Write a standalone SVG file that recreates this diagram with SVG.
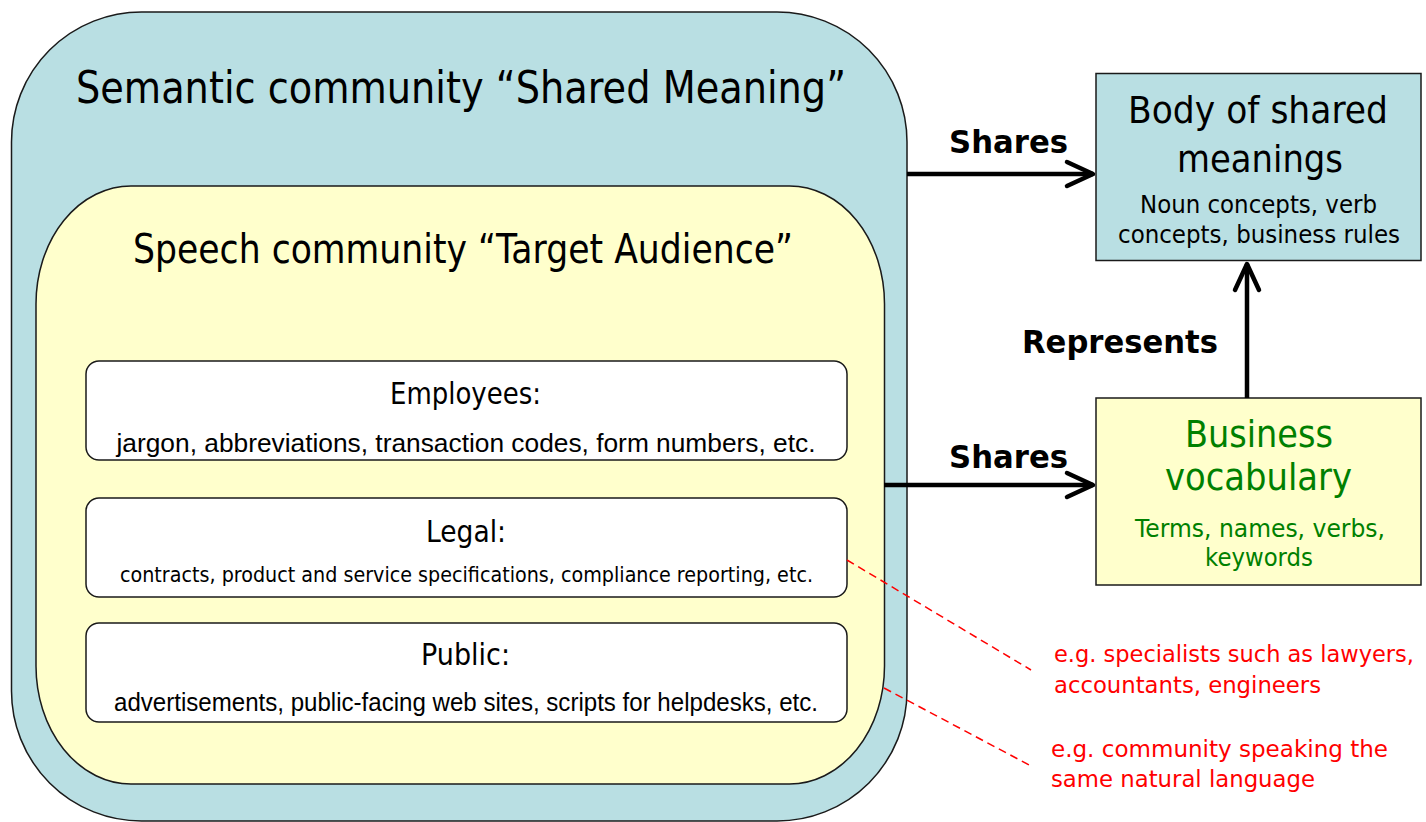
<svg xmlns="http://www.w3.org/2000/svg" width="1426" height="822" viewBox="0 0 1426 822">
<defs>
<style>
.tah{font-family:"DejaVu Sans","Noto Sans",sans-serif;}
.ari{font-family:"Liberation Sans",Arial,sans-serif;}
.blk{fill:#000;}
.grn{fill:#008000;}
.red{fill:#ff0000;}
.frame{stroke:#1a1a1a;stroke-width:1.5;}
.conn{stroke:#000;stroke-width:4.5;fill:none;}
.dash{stroke:#ff0000;stroke-width:1.5;stroke-dasharray:8 5;fill:none;}
</style>
<marker id="chev" markerUnits="userSpaceOnUse" viewBox="-32 -16 36 32" refX="0" refY="0" markerWidth="36" markerHeight="32" orient="auto" overflow="visible">
<path d="M -26 -12 L 0 0 L -26 12" fill="none" stroke="#000" stroke-width="4.5" stroke-linecap="round" stroke-linejoin="round"/>
</marker>
</defs>
<rect width="1426" height="822" fill="#ffffff"/>

<g id="semantic-community">
<rect class="frame" x="11.5" y="12" width="895.5" height="809" rx="130" ry="130" fill="#b9dfe3"/>
<text class="tah blk" x="461" y="103" font-size="45" text-anchor="middle" textLength="770" lengthAdjust="spacingAndGlyphs">Semantic community “Shared Meaning”</text>
</g>

<g id="speech-community">
<rect class="frame" x="36" y="186" width="848.5" height="598" rx="95" ry="118" fill="#ffffcc"/>
<text class="tah blk" x="463" y="263" font-size="41" text-anchor="middle" textLength="660" lengthAdjust="spacingAndGlyphs">Speech community “Target Audience”</text>
</g>

<g id="employees">
<rect class="frame" x="86" y="361" width="761" height="99" rx="13" ry="13" fill="#ffffff"/>
<text class="tah blk" x="465.5" y="404" font-size="30" text-anchor="middle" textLength="151" lengthAdjust="spacingAndGlyphs">Employees:</text>
<text class="ari blk" x="466" y="452" font-size="25" text-anchor="middle" textLength="699" lengthAdjust="spacingAndGlyphs">jargon, abbreviations, transaction codes, form numbers, etc.</text>
</g>

<g id="legal">
<rect class="frame" x="86" y="498" width="761" height="99" rx="13" ry="13" fill="#ffffff"/>
<text class="tah blk" x="466" y="542" font-size="30" text-anchor="middle" textLength="80" lengthAdjust="spacingAndGlyphs">Legal:</text>
<text class="tah blk" x="466.5" y="582" font-size="21" text-anchor="middle" textLength="693" lengthAdjust="spacingAndGlyphs">contracts, product and service specifications, compliance reporting, etc.</text>
</g>

<g id="public">
<rect class="frame" x="86" y="623" width="761" height="99" rx="13" ry="13" fill="#ffffff"/>
<text class="tah blk" x="465.5" y="665" font-size="30" text-anchor="middle" textLength="89" lengthAdjust="spacingAndGlyphs">Public:</text>
<text class="ari blk" x="466" y="711" font-size="25" text-anchor="middle" textLength="704" lengthAdjust="spacingAndGlyphs">advertisements, public-facing web sites, scripts for helpdesks, etc.</text>
</g>

<g id="body-of-shared-meanings">
<rect class="frame" x="1096" y="73.5" width="325" height="187" fill="#b9dfe3"/>
<text class="tah blk" x="1258" y="123" font-size="38" text-anchor="middle" textLength="260" lengthAdjust="spacingAndGlyphs">Body of shared</text>
<text class="tah blk" x="1260" y="172" font-size="38" text-anchor="middle" textLength="166" lengthAdjust="spacingAndGlyphs">meanings</text>
<text class="tah blk" x="1258.5" y="213" font-size="24" text-anchor="middle" textLength="237" lengthAdjust="spacingAndGlyphs">Noun concepts, verb</text>
<text class="tah blk" x="1259" y="243" font-size="24" text-anchor="middle" textLength="282" lengthAdjust="spacingAndGlyphs">concepts, business rules</text>
</g>

<g id="business-vocabulary">
<rect class="frame" x="1096" y="398" width="325" height="187" fill="#ffffcc"/>
<text class="tah grn" x="1259" y="447" font-size="38" text-anchor="middle" textLength="148" lengthAdjust="spacingAndGlyphs">Business</text>
<text class="tah grn" x="1258.5" y="490" font-size="38" text-anchor="middle" textLength="187" lengthAdjust="spacingAndGlyphs">vocabulary</text>
<text class="tah grn" x="1260" y="537" font-size="24" text-anchor="middle" textLength="250" lengthAdjust="spacingAndGlyphs">Terms, names, verbs,</text>
<text class="tah grn" x="1259" y="566" font-size="24" text-anchor="middle" textLength="108" lengthAdjust="spacingAndGlyphs">keywords</text>
</g>

<g id="annotations">
<text class="tah red" x="1054" y="662" font-size="23" textLength="360" lengthAdjust="spacingAndGlyphs">e.g. specialists such as lawyers,</text>
<text class="tah red" x="1054" y="693" font-size="23" textLength="267" lengthAdjust="spacingAndGlyphs">accountants, engineers</text>
<text class="tah red" x="1051" y="757" font-size="23" textLength="337" lengthAdjust="spacingAndGlyphs">e.g. community speaking the</text>
<text class="tah red" x="1051" y="787" font-size="23" textLength="264" lengthAdjust="spacingAndGlyphs">same natural language</text>
</g>

<g id="connectors">
<line class="conn" x1="907" y1="174" x2="1093" y2="174" marker-end="url(#chev)"/>
<line class="conn" x1="884" y1="485" x2="1093" y2="485" marker-end="url(#chev)"/>
<line class="conn" x1="1247" y1="398" x2="1247" y2="264" marker-end="url(#chev)"/>
<text class="tah blk" x="949" y="153" font-size="32" font-weight="bold" textLength="119" lengthAdjust="spacingAndGlyphs">Shares</text>
<text class="tah blk" x="949" y="468" font-size="32" font-weight="bold" textLength="119" lengthAdjust="spacingAndGlyphs">Shares</text>
<text class="tah blk" x="1022" y="353" font-size="32" font-weight="bold" textLength="196" lengthAdjust="spacingAndGlyphs">Represents</text>
<line class="dash" x1="847" y1="560" x2="1031" y2="670"/>
<line class="dash" x1="884" y1="688" x2="1033" y2="767"/>
</g>
</svg>
